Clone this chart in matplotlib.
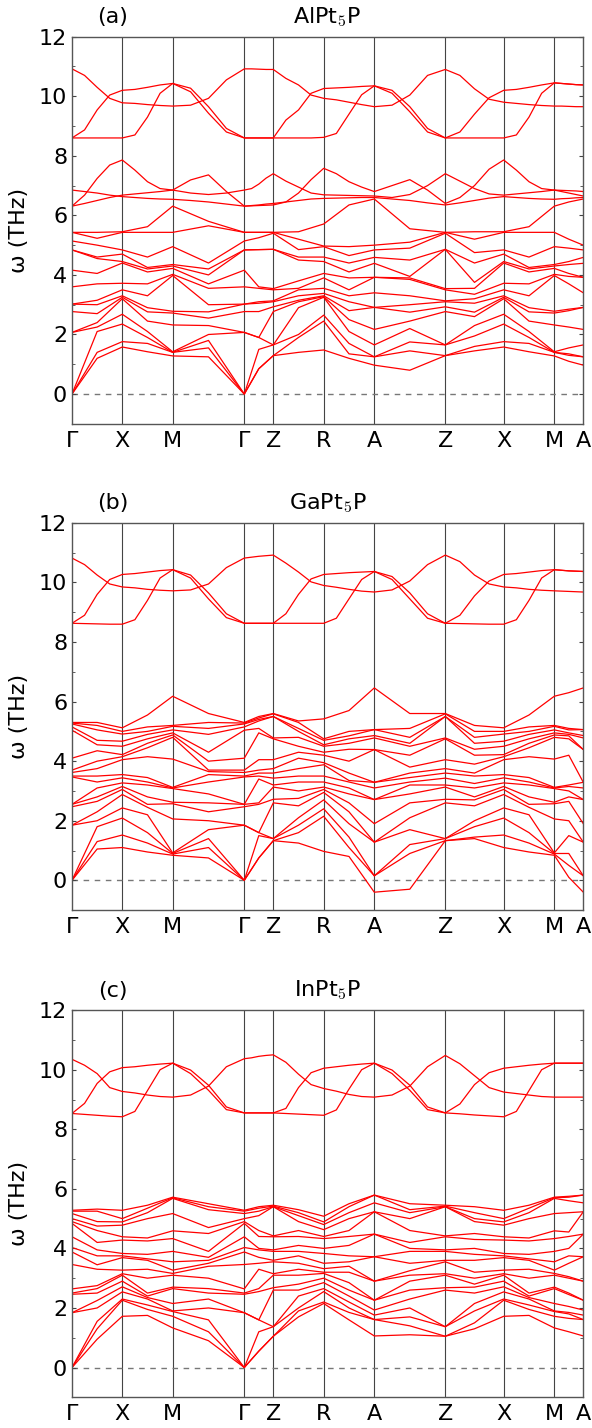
import numpy as np
import matplotlib.pyplot as plt

plt.rcParams['font.family'] = 'DejaVu Sans'
plt.rcParams['mathtext.fontset'] = 'cm'

# high-symmetry path
labels = ["Γ", "X", "M", "Γ", "Z", "R", "A", "Z", "X", "M", "A"]
kdist = [0, 50.3, 100.7, 172.3, 201.3, 251.7, 302.3, 373.3, 431.7, 482.3, 511.3]

# acoustic + low optical branches (THz), read at every high-symmetry point and segment middle
# order: G, G-X, X, X-M, M, M-G, G, G-Z, Z, Z-R, R, R-A, A, A-Z, Z, Z-X, X, X-M, M, M-A, A
alpt5p_low = [
    [0, 0, 0, 2.07, 2.07, 2.77, 3.02, 3.02, 3.6, 4.16, 4.84, 4.84, 5.14, 5.43, 5.43],
    [1.2, 1.4, 2.1, 2.25, 2.4, 2.7, 3.0, 3.15, 3.7, 4.05, 4.55, 4.6, 5.0, 5.23, 5.43],
    [1.58, 1.76, 2.35, 2.68, 3.2, 3.25, 3.3, 3.5, 3.72, 4.4, 4.45, 4.7, 4.84, 5.43, 5.45],
    [1.42, 1.7, 1.9, 2.1, 2.45, 2.76, 2.9, 3.3, 3.7, 4.1, 4.2, 4.25, 4.6, 5.43, 5.62],
    [1.28, 1.4, 1.4, 1.42, 2.32, 2.72, 2.78, 3.98, 4.02, 4.22, 4.3, 4.35, 4.95, 5.43, 6.31],
    [1.25, 1.55, 1.8, 2.0, 2.3, 2.55, 2.76, 3.0, 3.55, 3.7, 4.0, 4.2, 4.4, 5.65, 5.8],
    [0, 0, 0, 2.07, 2.07, 2.77, 3.02, 3.02, 3.6, 4.16, 4.84, 4.84, 5.14, 5.43, 5.43],
    [0.85, 0.85, 1.5, 1.9, 1.9, 2.77, 3.05, 3.1, 3.55, 3.6, 4.85, 4.85, 5.25, 5.43, 5.43],
    [1.29, 1.29, 1.65, 1.65, 2.77, 2.93, 3.1, 3.13, 3.5, 3.54, 4.86, 4.86, 5.4, 5.43, 5.43],
    [1.4, 1.9, 2.0, 2.9, 3.1, 3.15, 3.3, 3.5, 3.55, 3.8, 4.5, 4.6, 4.85, 5.2, 5.45],
    [1.48, 2.45, 2.65, 3.25, 3.27, 3.3, 3.38, 3.55, 3.9, 4.05, 4.45, 4.6, 4.95, 4.97, 5.71],
    [1.2, 1.35, 1.7, 2.1, 2.5, 2.8, 3.1, 3.3, 3.5, 3.9, 4.1, 4.4, 4.65, 4.95, 6.35],
    [0.97, 1.25, 1.25, 1.65, 2.17, 2.91, 2.91, 3.4, 3.92, 3.92, 4.39, 4.59, 4.84, 5.0, 6.55],
    [0.8, 1.45, 1.75, 2.2, 2.45, 2.75, 3.0, 3.3, 3.85, 3.9, 3.95, 4.5, 4.9, 5.1, 5.55],
    [1.29, 1.29, 1.65, 1.65, 2.77, 2.93, 3.1, 3.13, 3.5, 3.54, 4.86, 4.86, 5.4, 5.43, 5.43],
    [1.45, 1.6, 1.95, 2.3, 2.6, 2.75, 3.05, 3.2, 3.35, 3.55, 3.75, 4.4, 4.75, 5.2, 5.45],
    [1.58, 1.76, 2.35, 2.68, 3.2, 3.25, 3.3, 3.5, 3.72, 4.4, 4.45, 4.7, 4.84, 5.43, 5.45],
    [1.42, 1.7, 1.9, 2.1, 2.45, 2.76, 2.9, 3.3, 3.7, 4.1, 4.2, 4.25, 4.6, 5.43, 5.62],
    [1.28, 1.4, 1.4, 1.42, 2.32, 2.72, 2.78, 3.98, 4.02, 4.22, 4.3, 4.35, 4.95, 5.43, 6.31],
    [1.1, 1.3, 1.35, 1.55, 2.25, 2.8, 2.85, 3.7, 3.95, 4.05, 4.35, 4.45, 4.9, 5.2, 6.45],
    [0.97, 1.25, 1.25, 1.65, 2.17, 2.91, 2.91, 3.4, 3.92, 3.92, 4.39, 4.59, 4.84, 5.0, 6.55],
]

gapt5p_low = [
    [0, 0, 0, 1.85, 1.85, 2.47, 2.55, 2.55, 3.47, 3.5, 3.62, 3.7, 4.1, 5.04, 5.15, 5.25, 5.28, 5.3],
    [1.05, 1.3, 1.8, 2.0, 2.3, 2.65, 2.8, 3.1, 3.3, 3.5, 3.75, 4.0, 4.35, 4.55, 4.7, 5.05, 5.2, 5.3],
    [1.1, 1.52, 2.09, 2.43, 2.88, 3.05, 3.15, 3.27, 3.44, 3.55, 4.05, 4.15, 4.22, 4.5, 4.67, 4.91, 5.0, 5.12],
    [0.95, 1.25, 1.6, 2.2, 2.45, 2.55, 2.8, 3.2, 3.3, 3.45, 4.15, 4.45, 4.6, 4.75, 4.9, 5.0, 5.15, 5.55],
    [0.84, 0.88, 0.9, 0.92, 2.06, 2.57, 2.62, 3.08, 3.1, 3.12, 4.07, 4.8, 4.88, 4.95, 5.05, 5.17, 5.2, 6.18],
    [0.75, 1.1, 1.4, 1.7, 2.0, 2.3, 2.6, 2.9, 3.3, 3.55, 3.65, 3.7, 4.0, 4.3, 4.9, 5.1, 5.3, 5.6],
    [0, 0, 0, 1.85, 1.85, 2.47, 2.55, 2.55, 3.47, 3.5, 3.62, 3.7, 4.1, 5.04, 5.15, 5.25, 5.28, 5.3],
    [0.75, 0.75, 1.5, 1.6, 1.6, 2.55, 2.6, 3.4, 3.5, 3.6, 3.7, 4.05, 4.95, 5.1, 5.35, 5.4, 5.45, 5.5],
    [1.33, 1.33, 1.4, 1.4, 2.6, 2.72, 3.13, 3.2, 3.43, 3.6, 3.75, 4.05, 4.75, 4.78, 5.5, 5.5, 5.59, 5.6],
    [1.25, 1.6, 1.85, 2.1, 2.5, 2.75, 3.0, 3.3, 3.5, 3.75, 4.1, 4.3, 4.5, 4.8, 5.0, 5.1, 5.3, 5.35],
    [0.97, 2.15, 2.4, 2.7, 2.95, 3.05, 3.13, 3.3, 3.5, 3.88, 3.95, 4.2, 4.3, 4.5, 4.55, 4.7, 4.75, 5.42],
    [0.8, 1.1, 1.45, 1.9, 2.3, 2.6, 2.9, 3.1, 3.3, 3.35, 3.6, 4.0, 4.4, 4.6, 4.75, 4.85, 5.0, 5.7],
    [-0.4, 0.15, 0.15, 1.28, 1.28, 1.9, 2.71, 2.71, 3.1, 3.29, 3.29, 4.39, 4.39, 4.78, 4.86, 5.06, 5.06, 6.46],
    [-0.3, 0.9, 1.2, 1.7, 2.1, 2.6, 2.9, 3.2, 3.3, 3.45, 3.6, 3.8, 4.2, 4.5, 4.6, 4.8, 5.1, 5.6],
    [1.33, 1.33, 1.4, 1.4, 2.6, 2.72, 3.13, 3.2, 3.43, 3.6, 3.75, 4.05, 4.75, 4.78, 5.5, 5.5, 5.59, 5.6],
    [1.4, 1.45, 1.8, 2.0, 2.5, 2.7, 2.8, 3.1, 3.25, 3.5, 3.6, 3.9, 4.2, 4.4, 4.6, 4.8, 5.0, 5.2],
    [1.1, 1.52, 2.09, 2.43, 2.88, 3.05, 3.15, 3.27, 3.44, 3.55, 4.05, 4.15, 4.22, 4.5, 4.67, 4.91, 5.0, 5.12],
    [0.95, 1.25, 1.6, 2.2, 2.45, 2.55, 2.8, 3.2, 3.3, 3.45, 4.15, 4.45, 4.6, 4.75, 4.9, 5.0, 5.15, 5.55],
    [0.84, 0.88, 0.9, 0.92, 2.06, 2.57, 2.62, 3.08, 3.1, 3.12, 4.07, 4.8, 4.88, 4.95, 5.05, 5.17, 5.2, 6.18],
    [0.1, 0.5, 0.9, 1.5, 2.0, 2.65, 2.8, 3.0, 3.15, 3.2, 4.2, 4.75, 4.85, 4.9, 4.95, 5.05, 5.1, 6.3],
    [-0.4, 0.15, 0.15, 1.28, 1.28, 1.9, 2.71, 2.71, 3.1, 3.29, 3.29, 4.39, 4.39, 4.78, 4.86, 5.06, 5.06, 6.46],
]

inpt5p_low = [
    [0, 0, 0, 1.84, 1.84, 2.46, 2.5, 2.64, 3.46, 3.88, 4.03, 4.39, 4.84, 4.9, 5.0, 5.17, 5.25, 5.28],
    [0.95, 1.3, 1.55, 2.0, 2.25, 2.5, 2.65, 2.75, 3.3, 3.45, 3.75, 3.95, 4.2, 4.6, 4.75, 4.9, 5.25, 5.32],
    [1.72, 2.26, 2.3, 2.54, 2.71, 2.9, 3.1, 3.15, 3.27, 3.69, 3.75, 3.83, 4.28, 4.39, 4.78, 4.89, 5.0, 5.28],
    [1.75, 1.95, 2.1, 2.3, 2.35, 2.4, 2.5, 3.0, 3.3, 3.6, 3.65, 3.8, 4.25, 4.35, 5.0, 5.2, 5.35, 5.45],
    [1.33, 1.72, 1.88, 1.9, 2.15, 2.65, 2.7, 3.1, 3.16, 3.27, 3.55, 3.9, 4.33, 4.59, 5.17, 5.68, 5.7, 5.72],
    [0.9, 1.2, 1.6, 2.0, 2.3, 2.5, 2.65, 3.0, 3.4, 3.5, 3.6, 3.7, 3.9, 4.5, 4.7, 5.3, 5.4, 5.5],
    [0, 0, 0, 1.84, 1.84, 2.46, 2.5, 2.64, 3.46, 3.88, 4.03, 4.39, 4.84, 4.9, 5.0, 5.17, 5.25, 5.28],
    [0.55, 0.55, 1.2, 1.6, 1.6, 2.55, 2.65, 3.3, 3.5, 3.7, 3.95, 4.0, 4.4, 4.6, 5.1, 5.25, 5.35, 5.4],
    [1.05, 1.05, 1.37, 1.37, 2.6, 2.68, 3.1, 3.15, 3.55, 3.6, 3.9, 3.95, 4.39, 4.42, 5.4, 5.4, 5.42, 5.45],
    [1.7, 1.9, 2.0, 2.4, 2.6, 2.8, 3.1, 3.3, 3.5, 3.75, 3.9, 4.1, 4.4, 4.6, 4.9, 5.1, 5.2, 5.3],
    [2.15, 2.2, 2.55, 2.65, 2.85, 3.0, 3.16, 3.2, 3.32, 3.5, 3.83, 4.0, 4.33, 4.4, 4.63, 4.8, 4.89, 5.08],
    [1.6, 1.85, 2.0, 2.2, 2.4, 2.6, 2.85, 3.2, 3.4, 3.55, 3.75, 4.1, 4.4, 4.6, 5.0, 5.2, 5.4, 5.5],
    [1.06, 1.61, 1.61, 1.76, 1.93, 2.26, 2.26, 2.9, 2.9, 3.72, 3.72, 4.48, 4.48, 5.23, 5.23, 5.53, 5.79, 5.79],
    [1.1, 1.4, 1.7, 2.0, 2.3, 2.6, 2.9, 3.1, 3.25, 3.5, 3.9, 4.0, 4.2, 4.6, 5.0, 5.2, 5.3, 5.5],
    [1.05, 1.05, 1.37, 1.37, 2.6, 2.68, 3.1, 3.15, 3.55, 3.6, 3.9, 3.95, 4.39, 4.42, 5.4, 5.4, 5.42, 5.45],
    [1.3, 1.5, 1.9, 2.15, 2.5, 2.7, 2.8, 3.0, 3.2, 3.6, 3.8, 4.0, 4.3, 4.5, 4.9, 5.0, 5.2, 5.4],
    [1.72, 2.26, 2.3, 2.54, 2.71, 2.9, 3.1, 3.15, 3.27, 3.69, 3.75, 3.83, 4.28, 4.39, 4.78, 4.89, 5.0, 5.28],
    [1.75, 1.95, 2.1, 2.3, 2.35, 2.4, 2.5, 3.0, 3.3, 3.6, 3.65, 3.8, 4.25, 4.35, 5.0, 5.2, 5.35, 5.45],
    [1.33, 1.72, 1.88, 1.9, 2.15, 2.65, 2.7, 3.1, 3.16, 3.27, 3.55, 3.9, 4.33, 4.59, 5.17, 5.68, 5.7, 5.72],
    [1.2, 1.65, 1.8, 1.85, 2.05, 2.45, 2.5, 3.0, 3.05, 3.5, 3.75, 4.0, 4.4, 4.55, 5.2, 5.6, 5.72, 5.75],
    [1.06, 1.61, 1.61, 1.76, 1.93, 2.26, 2.26, 2.9, 2.9, 3.72, 3.72, 4.48, 4.48, 5.23, 5.23, 5.53, 5.79, 5.79],
]

# upper branches traced one by one, read at every quarter of each segment
# 41 values: G . . . X . . . M . . . G . . . Z . . . R . . . A . . . Z . . . X . . . M . . . A
alpt5p_upper = [
    # 6-8 THz group
    [6.31, 6.68, 7.24, 7.69, 7.86, 7.52, 7.13, 6.9, 6.85, 7.19, 7.36, 6.8,
     6.31, 6.32, 6.33, 6.34, 6.35, 6.45, 6.75, 7.2, 7.58, 7.4, 7.13, 6.95,
     6.8, 7.0, 7.2, 6.85, 6.4, 6.6, 7.0, 7.55, 7.86, 7.52, 7.13, 6.9,
     6.85, 6.84, 6.83, 6.82, 6.8],
    [6.85, 6.8, 6.75, 6.68, 6.63, 6.6, 6.57, 6.55, 6.54, 6.5, 6.45, 6.38,
     6.31, 6.33, 6.35, 6.38, 6.4, 6.45, 6.5, 6.55, 6.57, 6.58, 6.59, 6.6,
     6.6, 6.55, 6.5, 6.42, 6.35, 6.42, 6.5, 6.58, 6.63, 6.6, 6.57, 6.55,
     6.54, 6.56, 6.57, 6.59, 6.6],
    [6.31, 6.4, 6.5, 6.6, 6.68, 6.72, 6.76, 6.8, 6.85, 6.75, 6.7, 6.75,
     6.85, 6.9, 7.05, 7.25, 7.4, 7.15, 6.95, 6.75, 6.69, 6.68, 6.67, 6.66,
     6.65, 6.6, 6.7, 7.0, 7.4, 7.15, 6.9, 6.72, 6.68, 6.72, 6.76, 6.8,
     6.85, 6.8, 6.75, 6.7, 6.65],
    # 8.5-11 THz group
    [10.92, 10.7, 10.3, 9.93, 9.78, 9.76, 9.72, 9.69, 9.67, 9.7, 9.93, 10.55,
     10.92, 10.92, 10.91, 10.9, 10.9, 10.6, 10.38, 10.04, 9.93, 9.88, 9.8, 9.72,
     9.65, 9.7, 10.04, 10.7, 10.9, 10.7, 10.25, 9.9, 9.8, 9.76, 9.72, 9.69,
     9.67, 9.67, 9.66, 9.65, 9.65],
    [8.6, 8.87, 9.54, 10.04, 10.2, 10.23, 10.3, 10.38, 10.43, 10.27, 9.65, 8.92,
     8.6, 8.6, 8.6, 8.6, 8.6, 9.2, 9.54, 10.1, 10.26, 10.28, 10.3, 10.33,
     10.35, 10.2, 9.65, 8.92, 8.6, 8.8, 9.4, 9.95, 10.2, 10.23, 10.3, 10.38,
     10.45, 10.43, 10.41, 10.39, 10.38],
    [8.6, 8.6, 8.6, 8.6, 8.6, 8.7, 9.3, 10.1, 10.43, 10.15, 9.43, 8.8,
     8.6, 8.6, 8.6, 8.6, 8.6, 8.6, 8.6, 8.6, 8.62, 8.75, 9.4, 10.05,
     10.35, 10.1, 9.48, 8.8, 8.6, 8.6, 8.6, 8.6, 8.6, 8.7, 9.3, 10.1,
     10.45, 10.43, 10.41, 10.39, 10.38],
]

gapt5p_upper = [
    [10.82, 10.6, 10.25, 9.95, 9.85, 9.82, 9.77, 9.74, 9.72, 9.75, 9.95, 10.5,
     10.82, 10.85, 10.88, 10.9, 10.92, 10.65, 10.35, 10.02, 9.9, 9.84, 9.77, 9.71,
     9.68, 9.75, 10.05, 10.6, 10.92, 10.7, 10.25, 9.95, 9.85, 9.82, 9.77, 9.74,
     9.72, 9.71, 9.7, 9.69, 9.68],
    [8.63, 8.9, 9.6, 10.1, 10.27, 10.3, 10.35, 10.4, 10.43, 10.25, 9.65, 8.95,
     8.63, 8.63, 8.63, 8.63, 8.63, 8.95, 9.6, 10.12, 10.27, 10.3, 10.33, 10.35,
     10.37, 10.2, 9.65, 8.95, 8.63, 8.9, 9.55, 10.05, 10.27, 10.3, 10.35, 10.4,
     10.43, 10.41, 10.39, 10.38, 10.37],
    [8.63, 8.62, 8.61, 8.6, 8.6, 8.75, 9.4, 10.15, 10.43, 10.15, 9.45, 8.82,
     8.63, 8.63, 8.63, 8.63, 8.63, 8.63, 8.63, 8.63, 8.63, 8.8, 9.45, 10.1,
     10.37, 10.1, 9.45, 8.8, 8.63, 8.62, 8.61, 8.6, 8.6, 8.75, 9.4, 10.15,
     10.43, 10.41, 10.39, 10.38, 10.37],
]

inpt5p_upper = [
    [10.35, 10.15, 9.87, 9.4, 9.27, 9.22, 9.15, 9.1, 9.08, 9.15, 9.45, 10.1,
     10.37, 10.4, 10.45, 10.48, 10.5, 10.25, 9.85, 9.5, 9.37, 9.28, 9.17, 9.1,
     9.08, 9.15, 9.45, 10.1, 10.48, 10.2, 9.8, 9.4, 9.25, 9.2, 9.15, 9.1,
     9.08, 9.08, 9.08, 9.08, 9.08],
    [8.53, 8.87, 9.54, 9.93, 10.07, 10.1, 10.15, 10.19, 10.22, 9.99, 9.48, 8.75,
     8.55, 8.55, 8.55, 8.55, 8.55, 8.7, 9.4, 9.9, 10.05, 10.1, 10.15, 10.19,
     10.22, 9.99, 9.48, 8.75, 8.55, 8.85, 9.5, 9.9, 10.05, 10.1, 10.15, 10.19,
     10.22, 10.22, 10.22, 10.22, 10.22],
    [8.53, 8.5, 8.47, 8.44, 8.42, 8.6, 9.3, 10.0, 10.22, 9.87, 9.31, 8.66,
     8.55, 8.55, 8.55, 8.55, 8.55, 8.53, 8.51, 8.49, 8.47, 8.65, 9.35, 10.0,
     10.22, 9.87, 9.31, 8.66, 8.55, 8.52, 8.48, 8.45, 8.42, 8.6, 9.3, 10.0,
     10.22, 10.22, 10.22, 10.22, 10.22],
]

panels = ["(a)", "(b)", "(c)"]
names = ["AlPt$_5$P", "GaPt$_5$P", "InPt$_5$P"]
bottoms = [0.7032, 0.3627, 0.0215]


def path_samples(n):
    # high-symmetry points plus n-1 evenly spaced read positions inside each segment
    pts = []
    for i in range(len(kdist) - 1):
        pts += list(np.linspace(kdist[i], kdist[i + 1], n + 1)[:-1])
    pts.append(kdist[-1])
    return np.array(pts)


k_half = path_samples(2)
k_quarter = path_samples(4)

fig = plt.figure(figsize=(5.92, 14.28), dpi=100)

datasets = [(alpt5p_low, alpt5p_upper), (gapt5p_low, gapt5p_upper), (inpt5p_low, inpt5p_upper)]
for (low, upper), tag, name, b in zip(datasets, panels, names, bottoms):
    ax = fig.add_axes([0.1216, b, 0.8637, 0.2711])
    freqs = np.sort(np.array(low), axis=1)
    for band in freqs.T:
        ax.plot(k_half, band, color='red', lw=0.9)
    for band in upper:
        ax.plot(k_quarter, band, color='red', lw=0.9)
    for x in kdist[1:-1]:
        ax.axvline(x, color='#444444', lw=0.8, zorder=0)
    ax.axhline(0, color='#777777', lw=1.0, ls=(0, (4, 4)), zorder=0)
    ax.set_xlim(kdist[0], kdist[-1])
    ax.set_ylim(-1, 12)
    ax.set_xticks(kdist)
    ax.set_xticklabels(labels)
    ax.set_yticks(range(0, 13, 2))
    ax.set_yticks(range(-1, 13), minor=True)
    ax.tick_params(axis='x', length=0, labelsize=16, pad=5)
    ax.tick_params(axis='y', which='both', direction='in', right=True, labelsize=16,
                   color='#444444')
    ax.tick_params(axis='y', which='major', length=3)
    ax.tick_params(axis='y', which='minor', length=2)
    for s in ax.spines.values():
        s.set_color('#555555')
        s.set_linewidth(1.0)
    ax.set_ylabel("ω (THz)", fontsize=16)
    ax.yaxis.set_label_coords(-0.085, 0.5)
    ax.text(0.08, 1.035, tag, transform=ax.transAxes, ha='center', va='baseline', fontsize=16)
    ax.text(0.5, 1.035, name, transform=ax.transAxes, ha='center', va='baseline', fontsize=16)

fig.savefig("out.png", dpi=100)
